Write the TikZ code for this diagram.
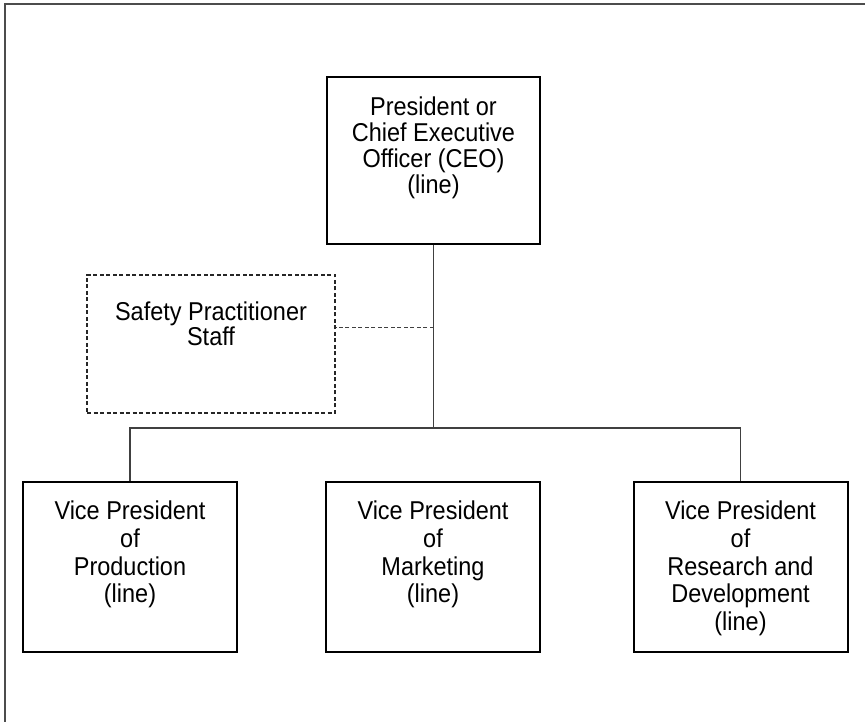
\documentclass[tikz,border=0pt]{standalone}
\usepackage{fontspec}
\setmainfont{Liberation Sans}[FakeStretch=0.91]
\usetikzlibrary{calc}

\tikzset{
	post/.style={draw=black, line width=2pt, minimum width=214pt, minimum height=170pt, inner sep=0pt},
	staffbox/.style={draw=black!85, line width=1.6pt, dash pattern=on 4pt off 2.5pt, minimum width=248pt, minimum height=138pt, inner sep=0pt},
	caption/.style={anchor=north, align=center, inner sep=0pt, font=\fontsize{25.8}{26}\selectfont},
	vpcaption/.style={caption, font=\fontsize{25.8}{27.6}\selectfont},
	link/.style={draw=black!75, line width=1.2pt},
	frameline/.style={draw=black!70, line width=2pt},
}

\begin{document}
\begin{tikzpicture}[x=1pt, y=1pt]
		%%%%% START %%%%%
		\useasboundingbox (0, 0) rectangle (865, 722);
		
		\draw[frameline] (5, 0) -- (5, 717.5) -- (865, 717.5);
		
		\node[post, minimum width=213pt, minimum height=167pt] (ceo) at (433.5, 561.5) {};
		\node[caption] (ceotxt) at ($(ceo.north)+(0, -21)$) {President or\\Chief Executive\\Officer (CEO)\\(line)};
		
		\node[staffbox] (safety) at (211, 378) {};
		\node[caption, font=\fontsize{25.8}{25}\selectfont] (safetytxt) at ($(safety.north)+(0, -27)$) {Safety Practitioner\\Staff};
		
		\node[post] (prod) at (130, 155) {};
		\node[vpcaption] (prodtxt) at ($(prod.north)+(0, -20)$) {Vice President\\of\\Production\\(line)};
		
		\node[post] (mkt) at (433, 155) {};
		\node[vpcaption] (mkttxt) at ($(mkt.north)+(0, -20)$) {Vice President\\of\\Marketing\\(line)};
		
		\node[post] (rnd) at (740.5, 155) {};
		\node[vpcaption] (rndtxt) at ($(rnd.north)+(0, -20)$) {Vice President\\of\\Research and\\Development\\(line)};
		
		% connectors
		\coordinate (bus) at (ceo.south |- 0, 294);
		\coordinate (tap) at (ceo.south |- 0, 394);
		\draw[link] (ceo.south) -- (bus);
		\draw[link] (prod.north) |- (bus) -| (rnd.north);
		\draw[link, line width=1pt, dash pattern=on 4pt off 2.5pt] (tap) -- (tap -| safety.east);
		
		%%%%% END %%%%%
	\end{tikzpicture}
\end{document}
